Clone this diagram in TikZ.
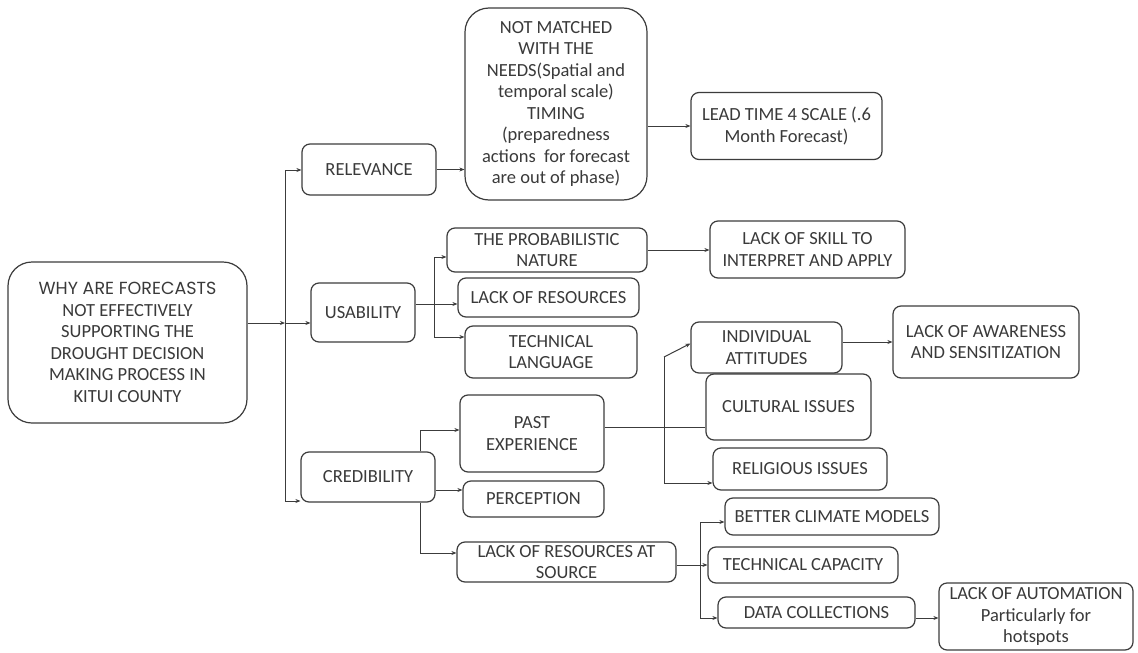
\documentclass[tikz,border=0pt]{standalone}
\usepackage{fontspec}
\setmainfont{Carlito}
\newfontfamily\rootfont{Poppins}
\usetikzlibrary{arrows.meta}
\definecolor{txt}{HTML}{3A3A3A}
\definecolor{edge}{HTML}{3C3C3C}
\tikzset{
  box/.style={draw=edge, line width=1.2pt, rounded corners=8pt, inner sep=0pt, align=center,
    text=txt, font=\fontsize{18.5}{21.5}\selectfont},
  bigbox/.style={box, rounded corners=24pt},
  conn/.style={draw=edge, line width=1pt},
  arr/.style={conn, -{Stealth[length=5pt,width=4pt]}},
}
\newcommand{\bx}[7][box]{\node[#1, minimum width=#5pt, minimum height=#6pt] (#2) at (#3,#4) {#7};}
\begin{document}
\begin{tikzpicture}[x=1pt,y=-1pt]
\useasboundingbox[fill=white] (0,0) rectangle (1138,653);
% nodes
\bx[bigbox]{root}{127.5}{342.5}{239}{161}{\rootfont\fontsize{17.5}{22.3}\selectfont WHY ARE FORECASTS\\NOT EFFECTIVELY\\SUPPORTING THE\\DROUGHT DECISION\\MAKING PROCESS IN\\KITUI COUNTY}
\bx{rel}{369}{169.5}{134}{51}{RELEVANCE}
\bx[bigbox]{nm}{556}{104}{182}{192}{NOT MATCHED\\WITH THE\\NEEDS(Spatial and\\temporal scale)\\TIMING\\(preparedness\\actions\ \ for forecast\\are out of phase)}
\bx{lead}{786.5}{126}{191}{67}{LEAD TIME 4 SCALE (.6\\Month Forecast)}
\bx{usa}{363}{312.5}{104}{59}{USABILITY}
\bx{prob}{547}{250}{200}{44}{THE PROBABILISTIC\\NATURE}
\bx{lres}{548.5}{297.5}{181}{39}{LACK OF RESOURCES}
\bx{tech}{551}{352}{172}{52}{TECHNICAL\\LANGUAGE}
\bx{skill}{807.5}{249.5}{195}{57}{LACK OF SKILL TO\\INTERPRET AND APPLY}
\bx{indiv}{766.5}{347.5}{151}{51}{INDIVIDUAL\\ATTITUDES}
\bx{aware}{986}{342}{186}{72}{LACK OF AWARENESS\\AND SENSITIZATION}
\bx{cult}{788.5}{407}{165}{66}{CULTURAL ISSUES}
\bx{relig}{800}{469}{174}{42}{RELIGIOUS ISSUES}
\bx{cred}{368}{477}{134}{50}{CREDIBILITY}
\bx{past}{532}{433.5}{144}{77}{PAST\\EXPERIENCE}
\bx{perc}{533.5}{499}{141}{36}{PERCEPTION}
\bx{lras}{566.5}{562}{219}{40}{LACK OF RESOURCES AT\\SOURCE}
\bx{better}{832}{516.5}{214}{37}{BETTER CLIMATE MODELS}
\bx{tcap}{803}{565}{190}{36}{TECHNICAL CAPACITY}
\bx{data}{816.5}{612.5}{197}{31}{DATA COLLECTIONS}
\bx{auto}{1036}{616.5}{194}{67}{LACK OF AUTOMATION\\Particularly for\\hotspots}
% helper coordinates
\coordinate (trT) at (285,170);
\coordinate (tr1) at (285,323);
\coordinate (trB) at (285,501);
\coordinate (u1) at (434,304);
\coordinate (u2) at (434,257);
\coordinate (u3) at (434,337);
\coordinate (c1) at (420,430);
\coordinate (c2) at (0,490);
\coordinate (c3) at (420,553);
\coordinate (p1) at (664,427);
\coordinate (p2) at (664,357);
\coordinate (p3) at (664,483);
\coordinate (l1) at (700,565);
\coordinate (l2) at (700,522);
\coordinate (l3) at (700,618);
% connectors
\draw[arr] (root.east |- tr1) -- (tr1);
\draw[conn] (trT) -- (trB);
\draw[arr] (trT) -- (rel.west |- trT);
\draw[arr] (tr1) -- (usa.west |- tr1);
\draw[arr] (trB) -- (cred.west |- trB);
\draw[arr] (rel.east) -- (nm.west |- rel.east);
\draw[arr] (nm.east |- lead) -- (lead.west);
\draw[arr] (usa.east |- u1) -- (lres.west |- u1);
\draw[conn] (u2) -- (u3);
\draw[arr] (u2) -- (prob.west |- u2);
\draw[arr] (u3) -- (tech.west |- u3);
\draw[arr] (prob.east) -- (skill.west |- prob.east);
\draw[arr] (cred.north -| c1) -- (c1) -- (past.west |- c1);
\draw[arr] (cred.east |- c2) -- (perc.west |- c2);
\draw[arr] (cred.south -| c3) -- (c3) -- (lras.west |- c3);
\draw[conn] (past.east |- p1) -- (cult.west |- p1);
\draw[conn] (p2) -- (p3);
\draw[arr] (p2) -- ([yshift=4pt]indiv.west);
\draw[arr] (p3) -- (relig.west |- p3);
\draw[arr] (indiv.east |- aware) -- (aware.west);
\draw[arr] (lras.east |- l1) -- (tcap.west |- l1);
\draw[conn] (l2) -- (l3);
\draw[arr] (l2) -- (better.west |- l2);
\draw[arr] (l3) -- (data.west |- l3);
\draw[arr] (data.east |- l3) -- (auto.west |- l3);
\end{tikzpicture}
\end{document}
